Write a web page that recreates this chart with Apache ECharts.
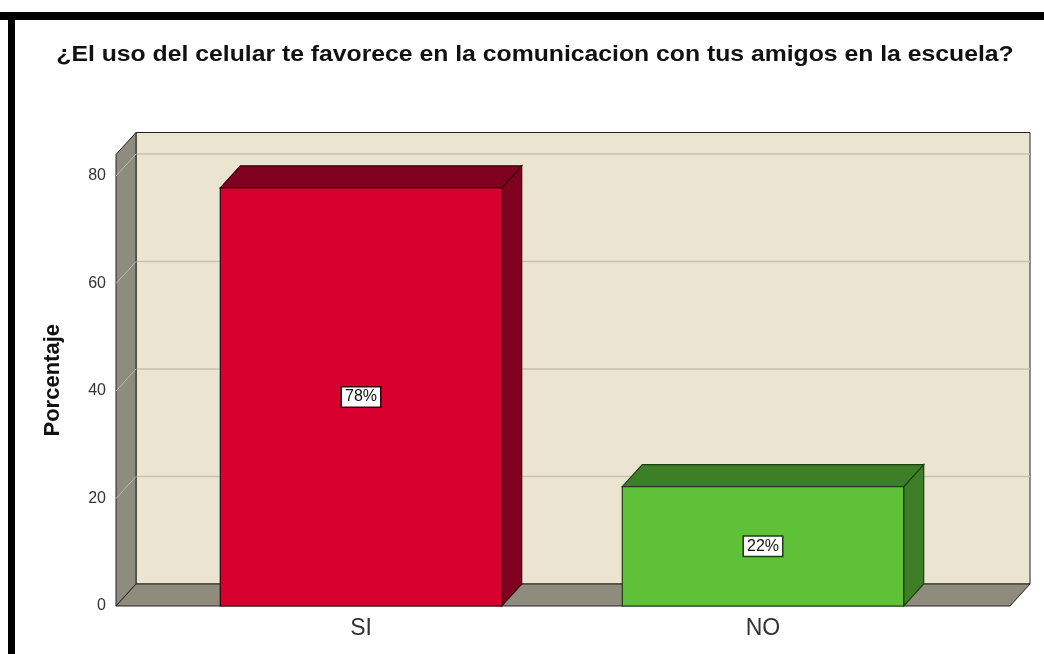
<!DOCTYPE html>
<html>
<head>
<meta charset="utf-8">
<script src="https://cdn.jsdelivr.net/npm/echarts@6/dist/echarts.min.js"></script>
<style>html,body{margin:0;padding:0;background:#fff}#c{width:1044px;height:654px}</style>
</head>
<body>
<div id="c"></div>
<script>
const titleText = '¿El uso del celular te favorece en la comunicacion con tus amigos en la escuela?';
const categories = ['SI', 'NO'];
const values = [77.8, 22.2];
const valueLabels = ['78%', '22%'];
const yTicks = [0, 20, 40, 60, 80];
const frontColors = ['#d8002f', '#5ec138'];
const darkColors = ['#80001f', '#3d7f27'];
const edgeColors = ['#3a0010', '#1d3d12'];

const DX = 20, DY = -22;
const EXT_L = 44, EXT_R = 46;
const FONT = 'Liberation Sans, Arial, sans-serif';

const chart = echarts.init(document.getElementById('c'), null, {renderer: 'canvas'});

function wallsRender(params, api) {
  const cs = params.coordSys;
  const y0 = api.coord([0, 0])[1];
  const yTop = cs.y;
  const xl = cs.x - EXT_L, xr = cs.x + cs.width + EXT_R;
  const ch = [];
  ch.push({type: 'rect', shape: {x: xl + DX, y: yTop + DY, width: xr - xl, height: y0 - yTop},
    style: {fill: '#ebe4d0', stroke: '#222', lineWidth: 1}});
  yTicks.forEach(function (t) {
    if (t === 0) return;
    const y = api.coord([0, t])[1];
    ch.push({type: 'line', shape: {x1: xl + DX, y1: y + DY, x2: xr + DX, y2: y + DY},
      style: {stroke: '#c9c2ae', lineWidth: 1.5}});
  });
  ch.push({type: 'polygon', shape: {points: [[xl, yTop], [xl + DX, yTop + DY], [xl + DX, y0 + DY], [xl, y0]]},
    style: {fill: '#8f8c7e', stroke: '#222', lineWidth: 1}});
  ch.push({type: 'polygon', shape: {points: [[xl, y0], [xl + DX, y0 + DY], [xr + DX, y0 + DY], [xr, y0]]},
    style: {fill: '#8f8c7e', stroke: '#222', lineWidth: 1}});
  yTicks.forEach(function (t) {
    if (t === 0) return;
    const y = api.coord([0, t])[1];
    ch.push({type: 'line', shape: {x1: xl, y1: y, x2: xl + DX, y2: y + DY},
      style: {stroke: '#bdb9ad', lineWidth: 1}});
  });
  return {type: 'group', children: ch};
}

function barRender(params, api) {
  const i = api.value(0);
  const v = api.value(1);
  const top = api.coord([i, v]);
  const base = api.coord([i, 0]);
  const band = api.size([1, 0])[0];
  const w = band * 0.7;
  const x1 = top[0] - w / 2, x2 = top[0] + w / 2;
  const yt = top[1], yb = base[1];
  const ec = edgeColors[i];
  return {type: 'group', children: [
    {type: 'polygon', shape: {points: [[x2, yt], [x2 + DX, yt + DY], [x2 + DX, yb + DY], [x2, yb]]},
      style: {fill: darkColors[i], stroke: ec, lineWidth: 1.2}},
    {type: 'polygon', shape: {points: [[x1, yt], [x1 + DX, yt + DY], [x2 + DX, yt + DY], [x2, yt]]},
      style: {fill: darkColors[i], stroke: ec, lineWidth: 1.2}},
    {type: 'rect', shape: {x: x1, y: yt, width: w, height: yb - yt},
      style: {fill: frontColors[i], stroke: ec, lineWidth: 1.2}},
    {type: 'text', x: top[0], y: (yt + yb) / 2,
      style: {text: valueLabels[i], align: 'center', verticalAlign: 'middle',
        fontSize: 16, fontFamily: FONT, fill: '#111',
        backgroundColor: '#fff', borderColor: ec, borderWidth: 1.5, padding: [2, 3, 1, 3]}}
  ]};
}

chart.setOption({
  animation: false,
  backgroundColor: '#fff',
  grid: {left: 160, right: 80, top: 154.5, bottom: 48},
  xAxis: {type: 'category', data: categories,
    axisLine: {show: false}, axisTick: {show: false},
    axisLabel: {fontSize: 23, color: '#333', margin: 11, fontFamily: FONT}},
  yAxis: {type: 'value', min: 0, max: 84, interval: 20,
    name: 'Porcentaje', nameLocation: 'middle', nameRotate: 90, nameGap: 96,
    nameTextStyle: {fontSize: 22, fontWeight: 'bold', color: '#111', fontFamily: FONT},
    axisLine: {show: false}, axisTick: {show: false}, splitLine: {show: false},
    axisLabel: {showMaxLabel: false, margin: 54, fontSize: 16, color: '#333', fontFamily: FONT}},
  graphic: [
    {type: 'rect', shape: {x: 0, y: 12, width: 1044, height: 8}, style: {fill: '#000'}, z: 100},
    {type: 'rect', shape: {x: 8, y: 12, width: 7, height: 642}, style: {fill: '#000'}, z: 100},
    {type: 'text', x: 535, y: 55, scaleX: 1.125, z: 100,
      style: {text: titleText, textAlign: 'center', textVerticalAlign: 'middle',
        font: 'bold 22px ' + FONT, fill: '#111'}}
  ],
  series: [
    {type: 'custom', renderItem: wallsRender, data: [[0, 0]], z: 1, silent: true},
    {type: 'custom', renderItem: barRender, data: values.map(function (v, i) { return [i, v]; }), z: 2,
      encode: {x: 0, y: 1}}
  ]
});
</script>
</body>
</html>
